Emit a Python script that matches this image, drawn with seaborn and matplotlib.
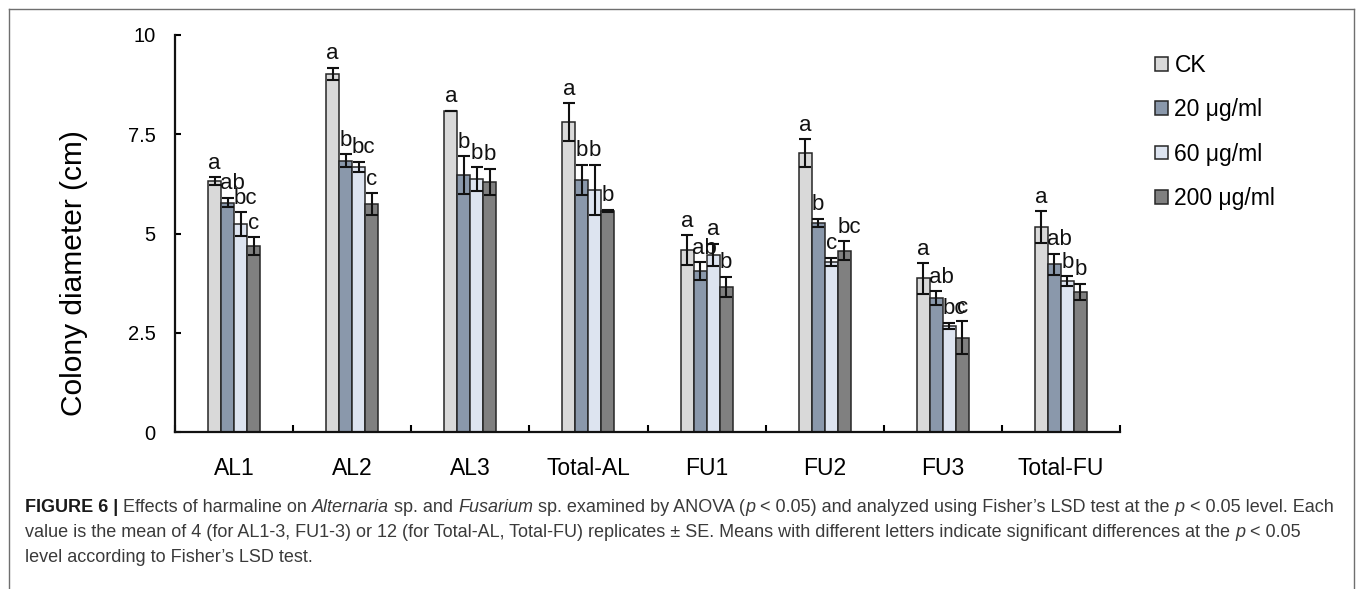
import matplotlib
matplotlib.use("Agg")
import matplotlib.pyplot as plt
from matplotlib.lines import Line2D
import numpy as np
import pandas as pd
import seaborn as sns

# ---- data -------------------------------------------------------------
groups = ["AL1", "AL2", "AL3", "Total-AL", "FU1", "FU2", "FU3", "Total-FU"]
treatments = ["CK", "20 μg/ml", "60 μg/ml", "200 μg/ml"]

ck_mean = [6.32, 9.02, 8.09, 7.80, 4.58, 7.02, 3.87, 5.16]
c20_mean = [5.78, 6.83, 6.47, 6.35, 4.06, 5.27, 3.37, 4.22]
c60_mean = [5.24, 6.68, 6.37, 6.10, 4.46, 4.29, 2.67, 3.80]
c200_mean = [4.69, 5.74, 6.30, 5.57, 3.66, 4.57, 2.38, 3.53]

ck_se = [0.10, 0.16, 0.00, 0.48, 0.37, 0.35, 0.39, 0.41]
c20_se = [0.12, 0.16, 0.48, 0.38, 0.22, 0.10, 0.17, 0.27]
c60_se = [0.30, 0.13, 0.30, 0.63, 0.28, 0.10, 0.08, 0.13]
c200_se = [0.22, 0.28, 0.33, 0.03, 0.25, 0.23, 0.42, 0.21]

ck_letters = ["a", "a", "a", "a", "a", "a", "a", "a"]
c20_letters = ["ab", "b", "b", "b", "ab", "b", "ab", "ab"]
c60_letters = ["bc", "bc", "b", "b", "a", "c", "bc", "b"]
c200_letters = ["c", "c", "b", "b", "b", "bc", "c", "b"]

y_ticks = [0, 2.5, 5, 7.5, 10]
y_tick_labels = ["0", "2.5", "5", "7.5", "10"]

colors = ["#d9d9d9", "#8497b0", "#dae3f3", "#808080"]

means = [ck_mean, c20_mean, c60_mean, c200_mean]
ses = [ck_se, c20_se, c60_se, c200_se]
letters = [ck_letters, c20_letters, c60_letters, c200_letters]

rows = []
for t, m in zip(treatments, means):
    for g, v in zip(groups, m):
        rows.append({"group": g, "treatment": t, "value": v})
df = pd.DataFrame(rows)

# ---- figure -----------------------------------------------------------
plt.rcParams["font.family"] = ["Liberation Sans", "DejaVu Sans"]
W, H = 1358, 589
fig = plt.figure(figsize=(W / 100, H / 100), dpi=100)
fig.patch.set_facecolor("white")


def fx(px):
    return px / W


def fy(py):
    return 1 - py / H


ax = fig.add_axes([fx(175), fy(432), fx(1120) - fx(175), fy(35) - fy(432)])

sns.barplot(
    data=df, x="group", y="value", hue="treatment",
    order=groups, hue_order=treatments, palette=colors,
    width=0.44, edgecolor="#262626", linewidth=1.1,
    errorbar=None, ax=ax,
)

# error bars and significance letters on each bar
for container, se_list, let_list in zip(ax.containers, ses, letters):
    xs = [b.get_x() + b.get_width() / 2 for b in container]
    hs = [b.get_height() for b in container]
    ax.errorbar(xs, hs, yerr=se_list, fmt="none", ecolor="#111111",
                elinewidth=1.5, capsize=4, capthick=1.5, zorder=5)
    for x, h, e, lab in zip(xs, hs, se_list, let_list):
        shift = 3.5 if len(lab) > 1 else 0
        ax.annotate(lab, (x, h + e), xytext=(shift, 6),
                    textcoords="offset points", ha="center", va="baseline",
                    fontsize=16, color="#111111")

ax.set_ylim(0, 10)
ax.set_xlim(-0.5, len(groups) - 0.5)
ax.set_yticks(y_ticks)
ax.set_yticklabels(y_tick_labels)
ax.set_xticks(range(len(groups)))
ax.set_xticklabels(groups)
ax.set_xticks(np.arange(-0.5, len(groups)), minor=True)
ax.tick_params(axis="x", which="major", length=0, pad=18, labelsize=16.5)
ax.tick_params(axis="x", which="minor", direction="in", length=5, width=1.5)
ax.tick_params(axis="y", direction="in", length=4, width=1.5, pad=14,
               labelsize=14.5)
ax.set_xlabel("")
ax.set_ylabel("Colony diameter (cm)", fontsize=21.5)
ax.yaxis.set_label_coords(-0.092, 0.40)
for s in ["top", "right"]:
    ax.spines[s].set_visible(False)
for s in ["left", "bottom"]:
    ax.spines[s].set_linewidth(1.6)
    ax.spines[s].set_color("#111111")

# legend to the right of the plot
handles, labels = ax.get_legend_handles_labels()
ax.get_legend().remove()
fig.legend(handles, labels, loc="upper left",
           bbox_to_anchor=(fx(1155), fy(54)), frameon=False,
           fontsize=16.5, handlelength=0.55, handleheight=0.55,
           handletextpad=0.3, labelspacing=0.93, borderpad=0,
           borderaxespad=0)

# figure frame
frame_kw = dict(color="#6f6f6f", linewidth=1.0, transform=fig.transFigure)
fig.add_artist(Line2D([fx(8.5), fx(8.5)], [0, fy(8.5)], **frame_kw))
fig.add_artist(Line2D([fx(8.5), fx(1353.5)], [fy(8.5), fy(8.5)], **frame_kw))
fig.add_artist(Line2D([fx(1353.5), fx(1353.5)], [0, fy(8.5)], **frame_kw))

# caption with mixed bold / italic runs
cap_lines = [
    [("FIGURE 6 | ", "bold", "normal"),
     ("Effects of harmaline on ", "normal", "normal"),
     ("Alternaria", "normal", "italic"),
     (" sp. and ", "normal", "normal"),
     ("Fusarium", "normal", "italic"),
     (" sp. examined by ANOVA (", "normal", "normal"),
     ("p", "normal", "italic"),
     (" < 0.05) and analyzed using Fisher’s LSD test at the ", "normal", "normal"),
     ("p", "normal", "italic"),
     (" < 0.05 level. Each", "normal", "normal")],
    [("value is the mean of 4 (for AL1-3, FU1-3) or 12 (for Total-AL, Total-FU) "
      "replicates ± SE. Means with different letters indicate significant "
      "differences at the ", "normal", "normal"),
     ("p", "normal", "italic"),
     (" < 0.05", "normal", "normal")],
    [("level according to Fisher’s LSD test.", "normal", "normal")],
]
cap_baselines = [512, 537, 562]
cap_left, cap_right = 25.0, 1338.0
fig.canvas.draw()
renderer = fig.canvas.get_renderer()


def measure_line(runs, size):
    total = 0.0
    for txt, weight, style in runs:
        t = fig.text(0, 0, txt, fontsize=size, fontweight=weight,
                     fontstyle=style)
        total += t.get_window_extent(renderer=renderer).width
        t.remove()
    return total


base_size = 11.4
cap_size = base_size * (cap_right - cap_left) / measure_line(cap_lines[0], base_size)

for runs, base in zip(cap_lines, cap_baselines):
    x = cap_left
    for txt, weight, style in runs:
        color = "#1a1a1a" if weight == "bold" else "#3a3a3a"
        t = fig.text(fx(x), fy(base), txt, fontsize=cap_size, fontweight=weight,
                     fontstyle=style, color=color, ha="left", va="baseline")
        x += t.get_window_extent(renderer=renderer).width

fig.savefig("out.png", dpi=100, facecolor="white")
